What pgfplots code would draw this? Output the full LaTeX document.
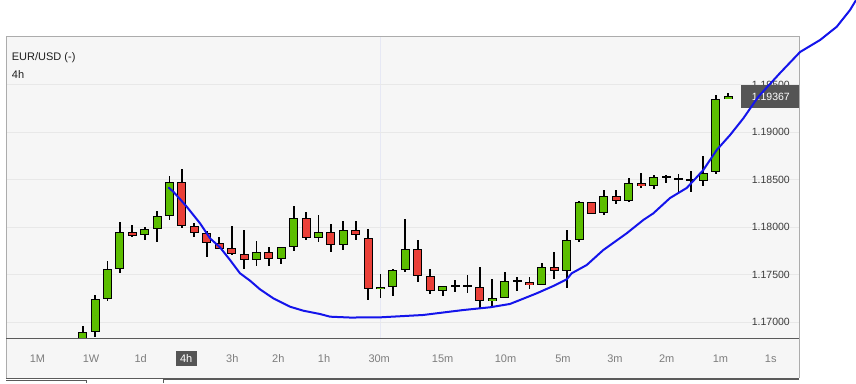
\documentclass[border=0pt]{standalone}
\usepackage{fontspec}
\setmainfont{Liberation Sans}
\usepackage{pgfplots}
\usepackage{pgfplotstable}
\pgfplotsset{compat=1.18}
\definecolor{bgGray}{RGB}{246,246,246}
\definecolor{borderGray}{RGB}{172,172,172}
\definecolor{axisDark}{RGB}{90,90,90}
\definecolor{gridGray}{RGB}{232,232,232}
\definecolor{vgrid}{RGB}{230,232,244}
\definecolor{candleGreen}{RGB}{92,190,0}
\definecolor{candleRed}{RGB}{234,64,56}
\definecolor{lineBlue}{RGB}{20,20,235}
\definecolor{tagGray}{RGB}{85,85,85}
\definecolor{tickText}{RGB}{60,60,60}
\definecolor{stripText}{RGB}{125,125,125}

% OHLC, candle index i
\pgfplotstableread{
i o h l c
1 1.16758 1.16958 1.16705 1.16892
2 1.16892 1.17284 1.16845 1.17239
3 1.17239 1.17642 1.17224 1.17555
4 1.17555 1.18053 1.17519 1.17944
6 1.17913 1.18000 1.17860 1.17979
7 1.17976 1.18168 1.17845 1.18113
8 1.18113 1.18537 1.18074 1.18471
15 1.17649 1.17853 1.17593 1.17734
17 1.17660 1.17789 1.17614 1.17789
18 1.17789 1.18224 1.17747 1.18092
20 1.17881 1.18129 1.17845 1.17944
22 1.17807 1.18063 1.17758 1.17965
25 1.17344 1.17502 1.17256 1.17368
26 1.17365 1.17555 1.17277 1.17544
27 1.17544 1.18081 1.17523 1.17765
30 1.17323 1.17376 1.17277 1.17376
34 1.17218 1.17449 1.17147 1.17253
35 1.17249 1.17526 1.17249 1.17432
38 1.17386 1.17621 1.17386 1.17576
40 1.17532 1.17968 1.17363 1.17860
41 1.17860 1.18276 1.17839 1.18260
43 1.18151 1.18389 1.18129 1.18323
45 1.18277 1.18516 1.18266 1.18460
47 1.18435 1.18547 1.18400 1.18523
51 1.18481 1.18744 1.18435 1.18565
52 1.18576 1.19389 1.18561 1.19344
53 1.19348 1.19407 1.19348 1.19379
}\greenT

\pgfplotstableread{
i o h l c
5 1.17944 1.18018 1.17898 1.17908
9 1.18471 1.18611 1.17993 1.18007
10 1.18007 1.18042 1.17898 1.17934
11 1.17934 1.17958 1.17687 1.17828
12 1.17828 1.17895 1.17765 1.17772
13 1.17776 1.18011 1.17708 1.17713
14 1.17713 1.17968 1.17561 1.17649
16 1.17737 1.17789 1.17593 1.17660
19 1.18092 1.18158 1.17866 1.17881
21 1.17944 1.18035 1.17740 1.17807
23 1.17965 1.18063 1.17866 1.17913
24 1.17881 1.17979 1.17228 1.17344
28 1.17765 1.17863 1.17424 1.17481
29 1.17481 1.17555 1.17300 1.17326
32 1.17386 1.17495 1.17302 1.17365
33 1.17365 1.17579 1.17140 1.17218
37 1.17418 1.17471 1.17347 1.17386
39 1.17576 1.17737 1.17453 1.17534
42 1.18260 1.18260 1.18144 1.18144
44 1.18323 1.18389 1.18245 1.18271
46 1.18460 1.18568 1.18414 1.18435
49 1.18513 1.18555 1.18372 1.18492
}\redT

\pgfplotstableread{
i o h l c
31 1.17382 1.17445 1.17313 1.17382
36 1.17432 1.17474 1.17329 1.17432
48 1.18523 1.18547 1.18460 1.18523
50 1.18492 1.18589 1.18372 1.18492
}\dojiT

\pgfplotsset{candleplot/.style={only marks, mark size=0pt,
  mark options={draw=none, fill=none}, forget plot}}

\newcommand{\wicks}[1]{%
  \addplot[candleplot,
    error bars/.cd, y dir=both, y explicit, error mark=none,
    error bar style={line width=1.8pt, black}]
    table[x=i, y expr={(\thisrow{h}+\thisrow{l})/2},
          y error expr={(\thisrow{h}-\thisrow{l})/2}] {#1};}
\newcommand{\bodies}[1]{%
  \addplot[candleplot,
    error bars/.cd, y dir=both, y explicit, error mark=none,
    error bar style={line width=9pt, black}]
    table[x=i, y expr={(\thisrow{o}+\thisrow{c})/2},
          y error expr={max(abs(\thisrow{c}-\thisrow{o})/2,0.00011)}] {#1};}
\newcommand{\fills}[2]{%
  \addplot[candleplot,
    error bars/.cd, y dir=both, y explicit, error mark=none,
    error bar style={line width=7pt, #2}]
    table[x=i, y expr={(\thisrow{o}+\thisrow{c})/2},
          y error expr={max(abs(\thisrow{c}-\thisrow{o})/2-0.000105,0)}] {#1};}

\begin{document}
\begin{tikzpicture}
\path[use as bounding box] (0pt,0pt) rectangle (856pt,383pt);

\begin{axis}[
  at={(6.3pt,45pt)}, anchor=south west,
  scale only axis, width=793pt, height=302pt,
  xmin=-5.156, xmax=58.74, ymin=1.168316, ymax=1.200105,
  axis background/.style={fill=bgGray},
  axis line style={draw=none},
  major tick length=0pt,
  ytick={1.17,1.175,1.18,1.185,1.19,1.195},
  yticklabels={1.17000,1.17500,1.18000,1.18500,1.19000,1.19500},
  yticklabel pos=right,
  y tick label style={anchor=east, xshift=-9.3pt, inner sep=0pt,
    font=\fontsize{10.5}{12}\selectfont, text=tickText},
  xtick={25.0}, xticklabels={},
  xmajorgrids, ymajorgrids,
  major x grid style={draw=vgrid, line width=0.8pt},
  major y grid style={draw=gridGray, line width=0.8pt},
  /pgf/number format/assume math mode=true,
  clip=true,
]
\wicks{\greenT}
\wicks{\redT}
\wicks{\dojiT}
\bodies{\greenT}
\bodies{\redT}
\bodies{\dojiT}
\fills{\greenT}{candleGreen}
\fills{\redT}{candleRed}
\end{axis}

% panel frame
\draw[borderGray, line width=0.9pt] (6.3pt,45pt) -- (6.3pt,347pt) -- (799.3pt,347pt) -- (799.3pt,45pt);
% header text
\node[anchor=base west, inner sep=0pt, font=\fontsize{11}{13}\selectfont, text={rgb,255:red,30;green,30;blue,30}] at (11.7pt,322.3pt) {EUR/USD (-)};
\node[anchor=base west, inner sep=0pt, font=\fontsize{11}{13}\selectfont, text={rgb,255:red,30;green,30;blue,30}] at (11.7pt,304.3pt) {4h};

% bottom period strip
\fill[bgGray] (6.3pt,5pt) rectangle (799.3pt,45pt);
\draw[borderGray, line width=0.8pt] (6.3pt,5pt) -- (6.3pt,45pt);
\draw[borderGray, line width=0.8pt] (799.3pt,5pt) -- (799.3pt,45pt);
\draw[axisDark, line width=1pt] (6.3pt,45pt) -- (799.3pt,45pt);
\draw[axisDark, line width=0.8pt] (6.3pt,5pt) -- (799.3pt,5pt);
\draw[axisDark, line width=0.8pt] (6pt,3pt) -- (86pt,3pt) -- (86pt,0pt);
\draw[axisDark, line width=0.8pt] (163pt,0pt) -- (163pt,3.5pt) -- (799.3pt,3.5pt);
\fill[tagGray] (175.7pt,17.3pt) rectangle (196.7pt,32.3pt);
\begin{scope}[every node/.style={anchor=base, inner sep=0pt, font=\fontsize{11}{13}\selectfont, text=stripText}]
\node at (37.5pt,21pt) {1M};
\node at (91pt,21pt) {1W};
\node at (140.7pt,21pt) {1d};
\node[text=white] at (186.2pt,21pt) {4h};
\node at (232.3pt,21pt) {3h};
\node at (278.3pt,21pt) {2h};
\node at (324pt,21pt) {1h};
\node at (379.2pt,21pt) {30m};
\node at (442.6pt,21pt) {15m};
\node at (505.5pt,21pt) {10m};
\node at (563pt,21pt) {5m};
\node at (615pt,21pt) {3m};
\node at (666.7pt,21pt) {2m};
\node at (720.5pt,21pt) {1m};
\node at (770.7pt,21pt) {1s};
\end{scope}

% last price tag
\fill[tagGray] (741pt,275pt) rectangle (799.3pt,298pt);
\node[anchor=base east, inner sep=0pt, font=\fontsize{10.5}{12}\selectfont, text=white] at (790pt,282pt) {1.19367};

% moving average overlay (unclipped)
\begin{axis}[
  at={(6.3pt,45pt)}, anchor=south west,
  scale only axis, width=793pt, height=302pt,
  xmin=-5.156, xmax=58.74, ymin=1.168316, ymax=1.200105,
  hide axis, clip=false,
]
\addplot[lineBlue, line width=2pt, line join=round, mark=none] coordinates {
(7.898,1.18418) (8.300,1.18372) (9.380,1.18214) (10.452,1.18039)
(11.258,1.17881) (12.063,1.17786) (12.869,1.17653) (13.675,1.17513)
(14.481,1.17435) (15.287,1.17344) (16.359,1.17249) (17.704,1.17161)
(18.776,1.17119) (20.122,1.17084) (20.928,1.17056) (22.539,1.17047)
(24.957,1.17049) (28.446,1.17074) (30.538,1.17108) (31.669,1.17126)
(33.820,1.17155) (35.432,1.17190) (36.238,1.17232) (37.584,1.17302)
(38.921,1.17379) (40.001,1.17449) (40.404,1.17513) (41.613,1.17600)
(42.950,1.17758) (44.836,1.17934) (46.173,1.18074) (46.979,1.18144)
(48.324,1.18305) (49.670,1.18411) (51.008,1.18600) (52.088,1.18811)
(53.160,1.18968) (54.231,1.19144) (55.416,1.19368) (57.189,1.19621)
(58.800,1.19842) (60.411,1.19968) (61.757,1.20108) (62.828,1.20284)
(63.312,1.20389)
};
\end{axis}
\end{tikzpicture}
\end{document}
